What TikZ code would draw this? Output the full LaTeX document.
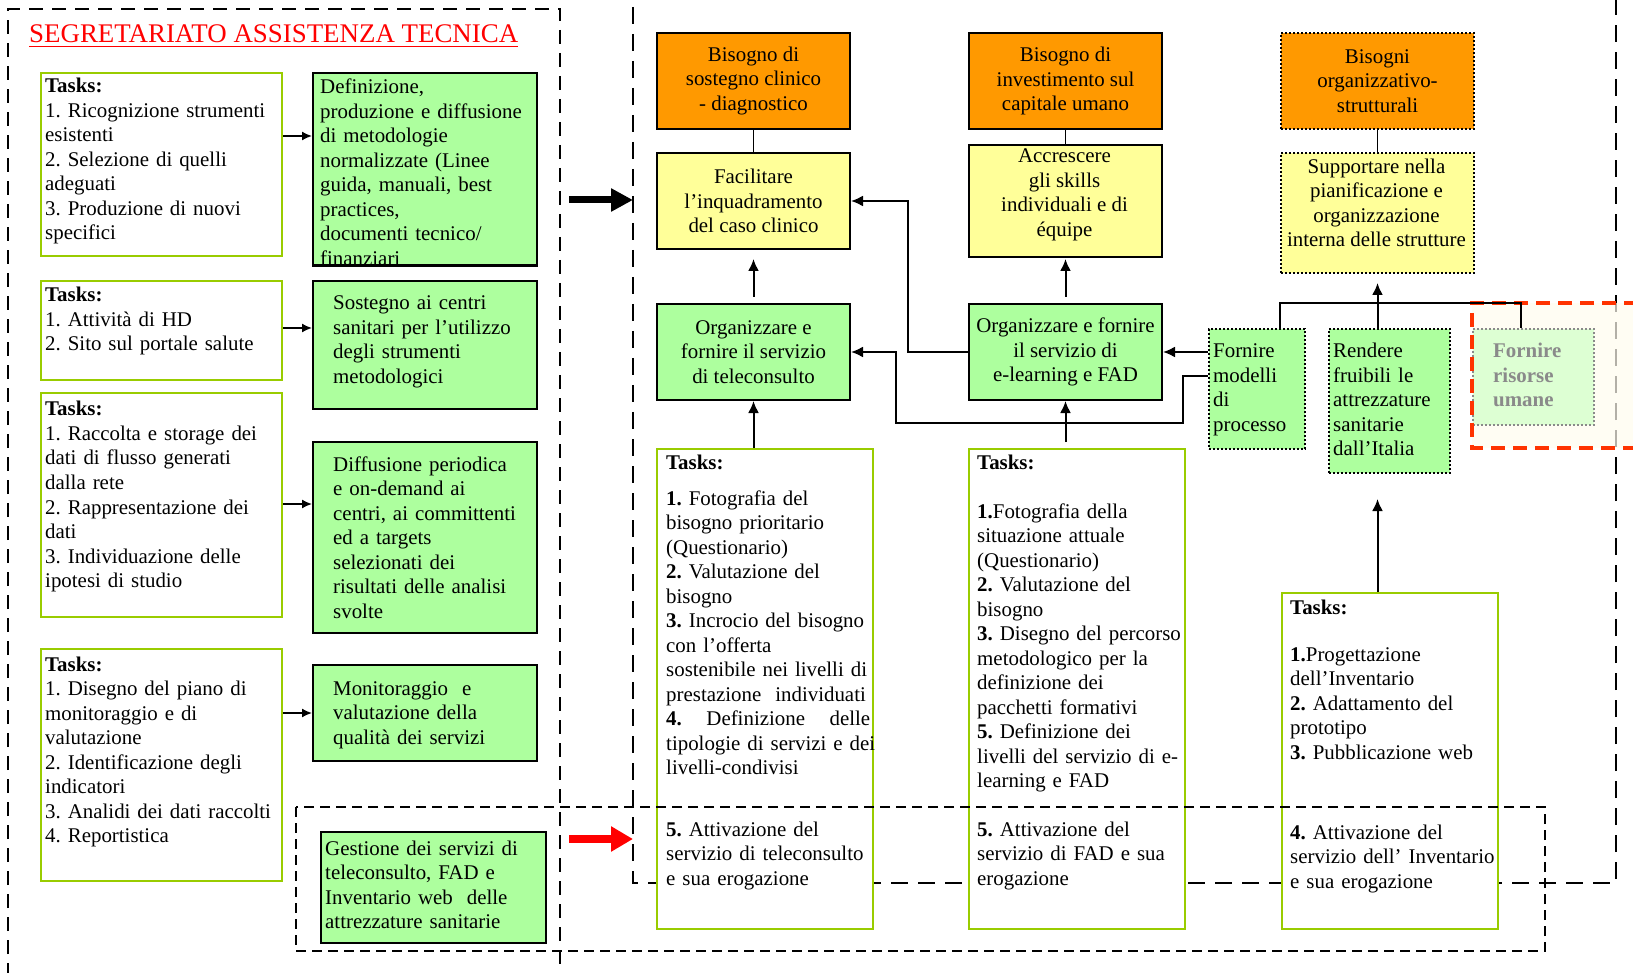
\documentclass[tikz,border=0pt]{standalone}
\usepackage{fontspec}
\setmainfont{Liberation Serif}
\usetikzlibrary{arrows.meta}
\definecolor{org}{HTML}{FF9900}
\definecolor{ylw}{HTML}{FFFF99}
\definecolor{grn}{HTML}{ADFF9E}
\definecolor{tgrn}{HTML}{99CC00}
\definecolor{frfill}{HTML}{DDFFD3}
\definecolor{frtext}{HTML}{8A8A8A}
\definecolor{redd}{HTML}{FF3300}
\definecolor{cream}{HTML}{FFFCEE}
\newcommand{\myfnt}{\fontsize{20.9}{24.5}\selectfont\frenchspacing}
\begin{document}
\frenchspacing
\begin{tikzpicture}[x=1pt,y=-1pt,
  sz/.style 2 args={minimum width=#1pt, minimum height=#2pt},
  box/.style={draw=black, line width=2pt, inner sep=0pt, anchor=north west},
  obox/.style={box, fill=org, align=center, font=\myfnt},
  ybox/.style={box, fill=ylw, align=center, font=\myfnt},
  gbox/.style={box, fill=grn, align=center, font=\myfnt},
  dotb/.style={dash pattern=on 2pt off 2pt},
  tbox/.style={draw=tgrn, line width=2.2pt, fill=white, inner sep=0pt, anchor=north west},
  txt/.style={font=\myfnt, anchor=base west, inner sep=0pt, align=left, text width=300pt},
  ctxt/.style={font=\myfnt, align=center, inner sep=0pt},
  conn/.style={line width=2pt},
  arr/.style={line width=2pt, -{Latex[length=12pt,width=11pt]}},
  sarr/.style={line width=1.6pt, -{Latex[length=10pt,width=9pt]}},
  leftdash/.style={line width=2pt, dash pattern=on 14pt off 9pt},
  bigdash/.style={line width=2.2pt, dash pattern=on 17pt off 10pt},
  smalldash/.style={line width=2.2pt, dash pattern=on 10pt off 6pt},
  reddash/.style={draw=redd, line width=3.5pt, dash pattern=on 14pt off 8pt}
]
\useasboundingbox (0,0) rectangle (1633,973);
\clip (0,0) rectangle (1633,973);

% dashed regions
\draw[leftdash] (8,1000) -- (8,9) -- (560,9) -- (560,1000);
\draw[bigdash] (633,-20) -- (633,883) -- (1616,883) -- (1616,-20);
\fill[cream, opacity=0.7] (1472,303) rectangle (1660,448);

% title
\node[anchor=base west, inner sep=0pt, font=\fontsize{26.9}{30}\selectfont, text=red] (title) at (29,43) {SEGRETARIATO ASSISTENZA TECNICA};
\draw[red, line width=1.6pt] ([yshift=-3.5pt]title.base west) -- ([yshift=-3.5pt]title.base east);

% left task boxes
\node[tbox, sz={241}{183}] (t1) at (40,72) {};
\node[tbox, sz={241}{99}] (t2) at (40,280) {};
\node[tbox, sz={241}{224}] (t3) at (40,392) {};
\node[tbox, sz={241}{232}] (t4) at (40,648) {};
\node[txt] (t1t) at (45,93) {\textbf{Tasks:}\\1. Ricognizione strumenti\\esistenti\\2. Selezione di quelli\\adeguati\\3. Produzione di nuovi\\specifici};
\node[txt] (t2t) at (45,302) {\textbf{Tasks:}\\1. Attività di HD\\2. Sito sul portale salute};
\node[txt] (t3t) at (45,416) {\textbf{Tasks:}\\1. Raccolta e storage dei\\dati di flusso generati\\dalla rete\\2. Rappresentazione dei\\dati\\3. Individuazione delle\\ipotesi di studio};
\node[txt] (t4t) at (45,671) {\textbf{Tasks:}\\1. Disegno del piano di\\monitoraggio e di\\valutazione\\2. Identificazione degli\\indicatori\\3. Analidi dei dati raccolti\\4. Reportistica};

% left green boxes
\node[gbox, sz={224}{192}] (g1) at (312,72) {};
\node[gbox, sz={224}{128}] (g2) at (312,280) {};
\node[gbox, sz={224}{191}] (g3) at (312,441) {};
\node[gbox, sz={224}{96}] (g4) at (312,664) {};
\node[gbox, sz={225}{111}] (gest) at (320,831) {};
\node[txt] (g1t) at (320,94) {Definizione,\\produzione e diffusione\\di metodologie\\normalizzate (Linee\\guida, manuali, best\\practices,\\documenti tecnico/\\finanziari};
\draw[line width=2pt] (g1.south west) -- (g1.south east);
\node[txt] (g2t) at (333,310) {Sostegno ai centri\\sanitari per l’utilizzo\\degli strumenti\\metodologici};
\node[txt] (g3t) at (333,471) {Diffusione periodica\\e on-demand ai\\centri, ai committenti\\ed a targets\\selezionati dei\\risultati delle analisi\\svolte};
\node[txt] (g4t) at (333,695) {Monitoraggio\ \ e\\valutazione della\\qualità dei servizi};
\node[txt] (gestt) at (325,855) {Gestione dei servizi di\\teleconsulto, FAD e\\Inventario web\ \ delle\\attrezzature sanitarie};

% right top boxes
\node[obox, sz={193}{96}] (o1) at (656,32) {Bisogno di\\sostegno clinico\\- diagnostico};
\node[obox, sz={193}{96}] (o2) at (968,32) {Bisogno di\\investimento sul\\capitale umano};
\node[obox, dotb, sz={193}{96}] (o3) at (1280,32) {Bisogni\\organizzativo-\\strutturali};
\node[ybox, sz={193}{96}] (y1) at (656,152) {Facilitare\\l’inquadramento\\del caso clinico};
\node[ybox, sz={193}{112}] (y2) at (968,144) {};
\node[ctxt] (y2t) at (1064.5,195) {Accrescere\\gli skills\\individuali e di\\équipe};
\node[ybox, dotb, sz={193}{120}] (y3) at (1280,152) {};
\node[ctxt] (y3t) at (1376.5,203) {Supportare nella\\pianificazione e\\organizzazione\\interna delle strutture};
\node[gbox, sz={193}{96}] (gtele) at (656,303) {Organizzare e\\fornire il servizio\\di teleconsulto};
\node[gbox, sz={193}{96}] (gel) at (968,303) {Organizzare e fornire\\il servizio di\\e-learning e FAD};
\node[gbox, dotb, sz={96}{120}] (fm) at (1208,328) {};
\node[txt] (fmt) at (1213,358) {Fornire\\modelli\\di\\processo};
\node[gbox, dotb, sz={121}{144}] (rf) at (1328,328) {};
\node[txt] (rft) at (1333,358) {Rendere\\fruibili le\\attrezzature\\sanitarie\\dall’Italia};
\node[box, dotb, draw=frtext, fill=frfill, sz={121}{96}] (fr) at (1472,328) {};
\node[txt, text=frtext, font=\myfnt\bfseries] (frt) at (1493,358) {Fornire\\risorse\\umane};
\draw[reddash] (1660,303) -- (1472,303) -- (1472,448) -- (1660,448);

% right task boxes
\node[tbox, sz={216}{480}] (ta) at (656,448) {};
\node[tbox, sz={216}{480}] (tb) at (968,448) {};
\node[tbox, sz={216}{336}] (tc) at (1281,592) {};
\node[txt] (tat) at (666,469) {\textbf{Tasks:}\\[11.5pt]\textbf{1.} Fotografia del\\bisogno prioritario\\(Questionario)\\\textbf{2.} Valutazione del\\bisogno\\\textbf{3.} Incrocio del bisogno\\con l’offerta\\sostenibile nei livelli di\\prestazione\ \ individuati\\\makebox[204pt][l]{\textbf{4.}\hfill Definizione\hfill delle}\\tipologie di servizi e dei\\livelli-condivisi};
\node[txt] (ta2) at (666,836) {\textbf{5.} Attivazione del\\servizio di teleconsulto\\e sua erogazione};
\node[txt] (tbt) at (977,469) {\textbf{Tasks:}\\[24.5pt]\textbf{1.}Fotografia della\\situazione attuale\\(Questionario)\\\textbf{2.} Valutazione del\\bisogno\\\textbf{3.} Disegno del percorso\\metodologico per la\\definizione dei\\pacchetti formativi\\\textbf{5.} Definizione dei\\livelli del servizio di e-\\learning e FAD};
\node[txt] (tb2) at (977,836) {\textbf{5.} Attivazione del\\servizio di FAD e sua\\erogazione};
\node[txt] (tct) at (1290,614) {\textbf{Tasks:}\\[22.5pt]\textbf{1.}Progettazione\\dell’Inventario\\\textbf{2.} Adattamento del\\prototipo\\\textbf{3.} Pubblicazione web};
\node[txt] (tc2) at (1290,839) {\textbf{4.} Attivazione del\\servizio dell’ Inventario\\e sua erogazione};

% bottom dashed box
\draw[smalldash] (296,807) rectangle (1545,951);

% big arrows
\coordinate (bigS) at (569,200);
\coordinate (bigE) at (633,200);
\draw[line width=7pt, -{Triangle[length=22pt,width=22pt]}] (bigS) -- (bigE);
\coordinate (redS) at (569,839);
\coordinate (redE) at (633,839);
\draw[red, line width=8pt, -{Triangle[length=22pt,width=24pt]}] (redS) -- (redE);

% left connectors
\draw[sarr] (t1.east |- 0,136) -- (g1.west |- 0,136);
\draw[sarr] (t2.east |- 0,328) -- (g2.west |- 0,328);
\draw[sarr] (t3.east |- 0,504) -- (g3.west |- 0,504);
\draw[sarr] (t4.east |- 0,713) -- (g4.west |- 0,713);

% right connectors
\draw[line width=1.5pt] (o1.south) -- (y1.north);
\draw[line width=1.5pt] (o2.south) -- (y2.north);
\draw[line width=1.5pt] (o3.south) -- (y3.north);
\draw[arr, shorten <=6pt, shorten >=9pt] (gtele.north) -- (y1.south);
\draw[arr, shorten <=6pt, shorten >=1pt] (gel.north) -- (y2.south);
\draw[arr] (gtele.south |- ta.north) -- (gtele.south);
\draw[arr, shorten <=6pt] (gel.south |- tb.north) -- (gel.south);
\draw[arr] (gel.west) -- ++(-60,0) |- (y1.east);
\draw[arr] (fm.west |- 0,376) -- (1183,376) |- (896,423) |- (gtele.east);
\draw[arr] (fm.west |- gel.east) -- (gel.east);
\draw[conn] (fm.north -| 1280,0) |- (1521,303) -- (fr.north -| 1521,0);
\draw[arr, shorten >=9pt] (rf.north -| y3.south) -- (y3.south);
\draw[arr, shorten >=25pt] (y3.south |- tc.north) -- (y3.south |- rf.south);
\end{tikzpicture}
\end{document}
